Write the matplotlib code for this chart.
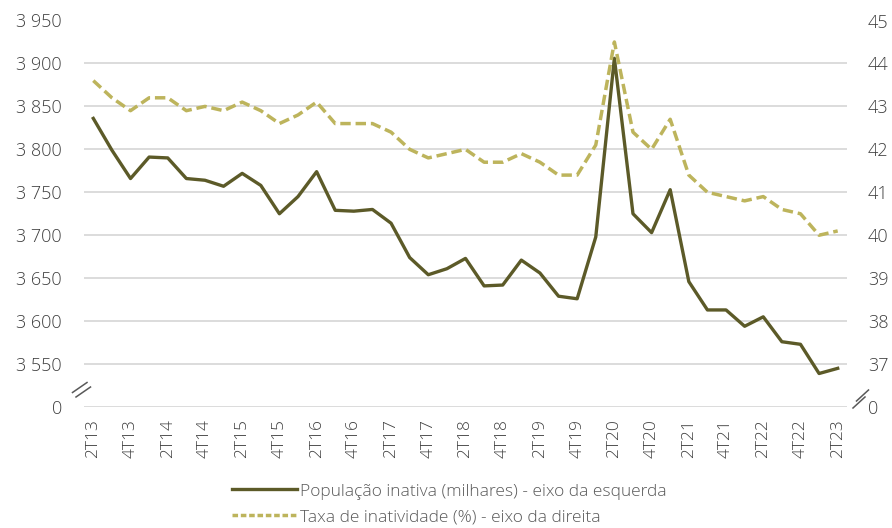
import matplotlib
matplotlib.use('Agg')
import matplotlib.pyplot as plt
from matplotlib.lines import Line2D

# quarters from 2T13 to 2T23
quarters = []
for year in range(13, 24):
    for q in range(1, 5):
        if (year == 13 and q < 2) or (year == 23 and q > 2):
            continue
        quarters.append(f'{q}T{year}')

populacao_inativa = [3836, 3799, 3766, 3791, 3790, 3766, 3764, 3757, 3772, 3758,
                     3725, 3745, 3774, 3729, 3728, 3730, 3714, 3674, 3654, 3661,
                     3673, 3641, 3642, 3671, 3656, 3629, 3626, 3698, 3906, 3725,
                     3703, 3753, 3646, 3613, 3613, 3594, 3605, 3576, 3573, 3539,
                     3545]
taxa_inatividade = [43.6, 43.2, 42.9, 43.2, 43.2, 42.9, 43.0, 42.9, 43.1, 42.9,
                    42.6, 42.8, 43.1, 42.6, 42.6, 42.6, 42.4, 42.0, 41.8, 41.9,
                    42.0, 41.7, 41.7, 41.9, 41.7, 41.4, 41.4, 42.1, 44.5, 42.4,
                    42.0, 42.7, 41.4, 41.0, 40.9, 40.8, 40.9, 40.6, 40.5, 40.0,
                    40.1]

left_ticks = [3500, 3550, 3600, 3650, 3700, 3750, 3800, 3850, 3900, 3950]
left_labels = ['0', '3 550', '3 600', '3 650', '3 700', '3 750', '3 800', '3 850', '3 900', '3 950']
right_ticks = [36, 37, 38, 39, 40, 41, 42, 43, 44, 45]
right_labels = ['0', '37', '38', '39', '40', '41', '42', '43', '44', '45']

dark = '#5C5A28'
light = '#BDB45C'
text_color = '#404040'

plt.rcParams['font.family'] = ['Open Sans', 'DejaVu Sans']
plt.rcParams['font.weight'] = 'light'

fig = plt.figure(figsize=(8.92, 5.28), dpi=100)
ax = fig.add_axes([84 / 892, 1 - 407 / 528, (847 - 84) / 892, (407 - 20.5) / 528])
ax2 = ax.twinx()

x = list(range(len(quarters)))
ax.plot(x, populacao_inativa, color=dark, linewidth=2.4, zorder=3)
ax2.plot(x, taxa_inatividade, color=light, linewidth=2.5, linestyle=(0, (3.0, 1.4)), zorder=3)

ax.set_xlim(-0.5, len(quarters) - 0.5)
ax.set_ylim(3500, 3950)
ax2.set_ylim(36, 45)
ax.set_yticks(left_ticks)
ax.set_yticklabels(left_labels)
ax2.set_yticks(right_ticks)
ax2.set_yticklabels(right_labels)
ax.set_xticks(x[::2])
ax.set_xticklabels(quarters[::2], rotation=90)

ax.grid(True, axis='y', color='#D9D9D9', linewidth=1.3)
ax.set_axisbelow(True)
for a in (ax, ax2):
    for s in a.spines.values():
        s.set_visible(False)
    a.tick_params(length=0, colors=text_color, labelsize=13)
ax.tick_params(axis='y', pad=16)
ax2.tick_params(axis='y', pad=15)
ax.tick_params(axis='x', pad=9, labelsize=12.5)

# axis break marks
for dx in (0, 3.5):
    fig.add_artist(Line2D([(72.5 + dx) / 892, (87 + dx) / 892],
                          [1 - (392.5 + 4.5 * dx / 3.5) / 528, 1 - (382.5 + 4.5 * dx / 3.5) / 528],
                          color='#595959', linewidth=1.1))
    fig.add_artist(Line2D([(853 + dx) / 892, (865 + dx) / 892],
                          [1 - (408 - 2 * dx) / 528, 1 - (397 - 2 * dx) / 528],
                          color='#595959', linewidth=1.1))

handles = [Line2D([], [], color=dark, linewidth=2.4),
           Line2D([], [], color=light, linewidth=2.5, linestyle=(0, (1.6, 0.8)))]
labels = ['População inativa (milhares) - eixo da esquerda',
          'Taxa de inatividade (%) - eixo da direita']
leg = fig.legend(handles, labels, loc='upper left', bbox_to_anchor=(222 / 892, 1 - 473 / 528),
                 frameon=False, fontsize=12.5, handlelength=3.7, handletextpad=0.2,
                 labelspacing=0.55, labelcolor='#595959', borderaxespad=0.2)

fig.savefig('out.png', dpi=100)
